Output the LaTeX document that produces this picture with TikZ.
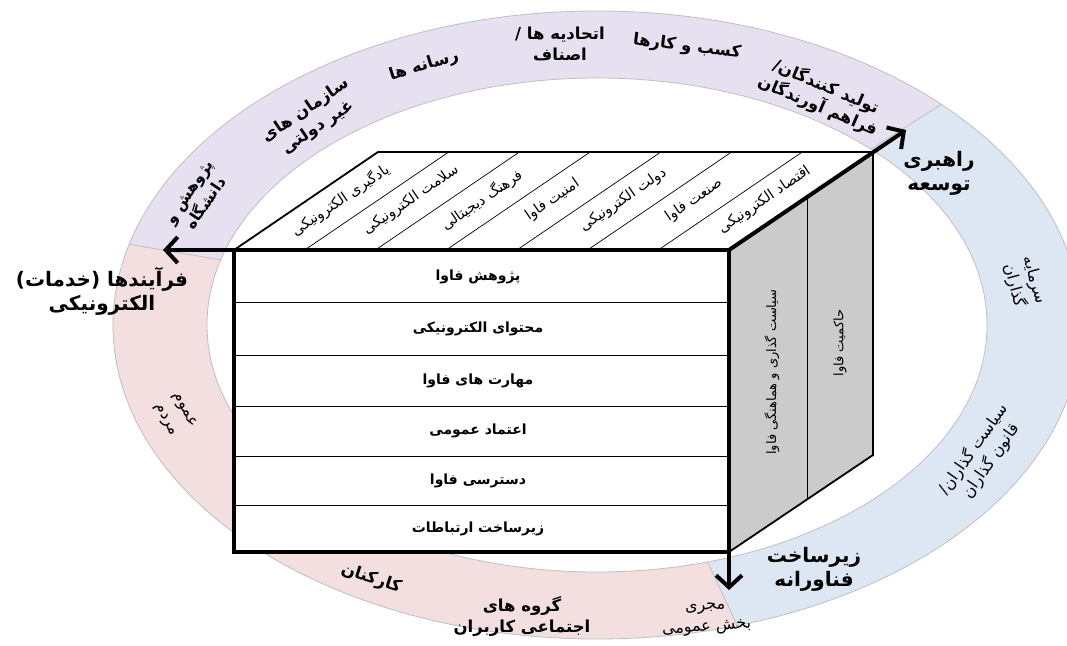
\documentclass[tikz,border=0pt]{standalone}
\usepackage{fontspec}
\usetikzlibrary{arrows.meta,calc}
\newfontfamily\arfont[Script=Arabic]{DejaVu Sans}
\TeXXeTstate=1
\newcommand{\rtl}[1]{\beginR#1\endR}
\definecolor{ringpurple}{HTML}{E6E0F0}
\definecolor{ringblue}{HTML}{DDE7F3}
\definecolor{ringpink}{HTML}{F3DFDF}
\definecolor{facegray}{HTML}{CBCBCB}
\begin{document}
\begin{tikzpicture}[x=1pt,y=-1pt,
  ringb/.style={font=\arfont\bfseries\fontsize{16.5}{21}\selectfont, align=center, inner sep=0pt},
  ringr/.style={font=\arfont\fontsize{16}{21}\selectfont, align=center, inner sep=0pt},
  rowlbl/.style={font=\arfont\bfseries\fontsize{14}{16}\selectfont, inner sep=0pt},
  toplbl/.style={font=\arfont\fontsize{14.5}{16}\selectfont, inner sep=0pt, rotate=34.2},
  sidelbl/.style={font=\arfont\fontsize{13}{15}\selectfont, inner sep=0pt, rotate=90},
  biglbl/.style={font=\arfont\bfseries\fontsize{20}{24}\selectfont, align=center, inner sep=0pt},
  axisarrow/.style={line width=4pt, -{Straight Barb[length=12pt,width=26pt]}},
  ringedge/.style={draw=black!25, line width=0.8pt},
  thinline/.style={line width=0.7pt},
  midline/.style={line width=1.8pt}
]
\clip (0,0) rectangle (1067,645);
\fill[white] (0,0) rectangle (1067,645);
% ---------- ring ----------
\coordinate (C) at (597,325);
\coordinate (farL) at (-792,85);
\coordinate (farTR) at (1425,-206);
\coordinate (farB) at (1017,1225);
\begin{scope}
  \clip (C) ellipse [x radius=484, y radius=314];
  \fill[ringpurple] (C) -- (farL) -- (-792,-1200) -- (1425,-1200) -- (farTR) -- cycle;
  \fill[ringblue] (C) -- (farTR) -- (2000,-1200) -- (2000,1500) -- (farB) -- cycle;
  \fill[ringpink] (C) -- (farB) -- (-1200,1500) -- (-1200,85) -- (farL) -- cycle;
  \draw[ringedge] (C) -- (farL);
  \draw[ringedge] (C) -- (farTR);
  \draw[ringedge] (C) -- (farB);
\end{scope}
\draw[ringedge] (C) ellipse [x radius=484, y radius=314];
\fill[white] (C) ellipse [x radius=390, y radius=247];
\draw[ringedge] (C) ellipse [x radius=390, y radius=247];
% ---------- ring labels ----------
\node[ringb, rotate=56, font=\arfont\bfseries\fontsize{15.5}{20}\selectfont] (r1) at (198,198) {\rtl{پژوهش و}\\\rtl{دانشگاه}};
\node[ringb, rotate=34] (r2) at (312,119) {\rtl{سازمان های}\\\rtl{غیر دولتی}};
\node[ringb, rotate=17] (r3) at (424,66) {\rtl{رسانه ها}};
\node[ringb] (r4) at (560,44) {\rtl{اتحادیه ها /}\\\rtl{اصناف}};
\node[ringb, rotate=-7] (r5) at (687,47) {\rtl{کسب و کارها}};
\node[ringb, rotate=-23] (r6) at (822,96) {\rtl{تولید کنندگان/}\\\rtl{فراهم آورندگان}};
\node[ringr, rotate=-75] (r7) at (1024,283) {\rtl{سرمایه}\\\rtl{گذاران}};
\node[ringr, rotate=55] (r8) at (982,455) {\rtl{سیاست گذاران/}\\\rtl{قانون گذاران}};
\node[ringr, rotate=4] (r9) at (706,619) {\rtl{مجری}\\\rtl{بخش عمومی}};
\node[ringb] (r10) at (522,616) {\rtl{گروه های}\\\rtl{اجتماعی کاربران}};
\node[ringb, rotate=-18] (r11) at (371,579) {\rtl{کارکنان}};
\node[ringr, rotate=-62] (r12) at (175,415) {\rtl{عموم}\\\rtl{مردم}};
% ---------- cube corners ----------
\coordinate (FTL) at (234,250);
\coordinate (FTR) at (729,250);
\coordinate (FBL) at (234,552);
\coordinate (FBR) at (729,552);
\coordinate (BTL) at (378,152);
\coordinate (BTR) at (873,152);
\coordinate (BBR) at (873,455);
% top face
\fill[white] (FTL) -- (BTL) -- (BTR) -- (FTR) -- cycle;
\foreach \i in {1,...,6} {
  \draw[thinline] ($(FTL)!\i/7!(FTR)$) -- ($(BTL)!\i/7!(BTR)$);
}
\foreach \i/\t in {0/{یادگیری الکترونیکی},1/{سلامت الکترونیکی},2/{فرهنگ دیجیتالی},3/{امنیت فاوا},4/{دولت الکترونیکی},5/{صنعت فاوا},6/{اقتصاد الکترونیکی}} {
  \node[toplbl] (t\i) at ($($(FTL)!{(\i+0.5)/7}!(FTR)$)+(71,-50)$) {\rtl{\t}};
}
\draw[midline] (FTL) -- (BTL) -- (BTR);
% right face
\fill[facegray] (FTR) -- (BTR) -- (BBR) -- (FBR) -- cycle;
\draw[line width=1pt] ($(FTR)!0.545!(BTR)$) -- ($(FBR)!0.545!(BBR)$);
\draw[midline] (BTR) -- (BBR) -- (FBR);
\node[sidelbl] (s1) at (772,372) {\rtl{سیاست گذاری و هماهنگی فاوا}};
\node[sidelbl] (s2) at (840,343) {\rtl{حاکمیت فاوا}};
% front face
\fill[white] (FTL) rectangle (FBR);
\foreach \y in {302,355,406,456,505} {
  \draw[line width=1pt] (234,\y) -- (729,\y);
}
\foreach \y/\t in {277/{پژوهش فاوا},329/{محتوای الکترونیکی},381/{مهارت های فاوا},431/{اعتماد عمومی},481/{دسترسی فاوا},529/{زیرساخت ارتباطات}} {
  \node[rowlbl] at (478,\y) {\rtl{\t}};
}
\draw[line width=3.5pt] (FTR) -- (FTL) -- (FBL) -- (FBR);
% ---------- axes ----------
\coordinate (tipL) at (163,250);
\coordinate (tipD) at (729,590);
\coordinate (tipTR) at (906,130);
\draw[axisarrow] (FTR) -- (tipL);
\draw[axisarrow] (FTR) -- (tipD);
\draw[axisarrow] (FTR) -- (tipTR);
% ---------- axis labels ----------
\node[biglbl] (aL) at (102,291) {\rtl{فرآیندها (خدمات)}\\\rtl{الکترونیکی}};
\node[biglbl] (aTR) at (939,173) {\rtl{راهبری}\\\rtl{توسعه}};
\node[biglbl] (aD) at (814,569) {\rtl{زیرساخت}\\\rtl{فناورانه}};
\end{tikzpicture}
\end{document}
